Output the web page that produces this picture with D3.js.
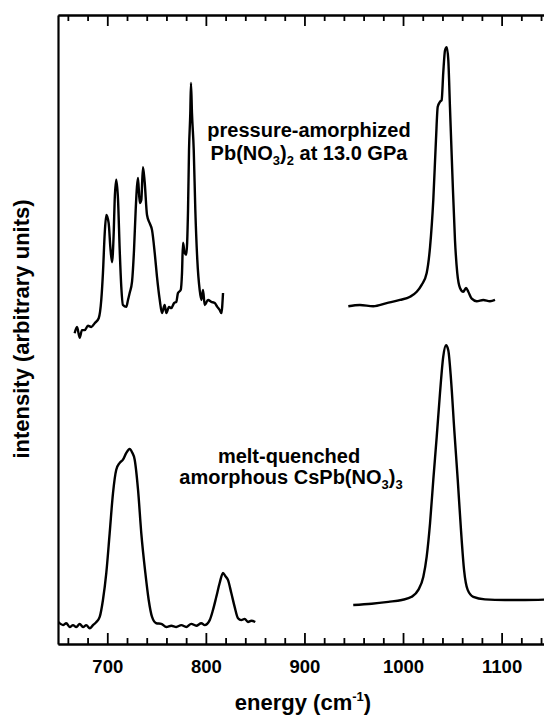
<!DOCTYPE html>
<html lang="en">
<head>
    <meta charset="UTF-8">
    <title>Raman spectra of amorphous nitrates</title>
    <script src="https://d3js.org/d3.v7.min.js"></script>
    <style>
        body {
            margin: 0;
            padding: 0;
            background-color: white;
        }

        svg {
            display: block;
            font-family: 'Liberation Sans', Arial, Helvetica, sans-serif;
            font-weight: bold;
        }

        .axis .domain {
            stroke: black;
            stroke-width: 2.2;
        }

        .axis line {
            stroke: black;
            stroke-width: 1.8;
        }

        .tick-label {
            font-family: 'Liberation Sans', Arial, Helvetica, sans-serif;
            font-weight: 700;
            font-size: 18.5px;
            fill: black;
        }

        .spectrum {
            fill: none;
            stroke: black;
            stroke-width: 2.4;
            stroke-linejoin: round;
        }
    </style>
</head>
<body>
    <svg id="chart" width="544" height="716"></svg>

    <script>
        // tick labels on the energy axis
        const majorTicks = [700, 800, 900, 1000, 1100];

        // pressure-amorphized Pb(NO3)2, lower energy band
        const pbLowE = [666.9, 669.3, 672.0, 674.3, 677.1, 680.4, 683.8, 687.2, 691.3, 693.9, 695.6, 697.4, 699.0, 701.4, 703.1, 704.8,
            706.5, 707.5, 709.1, 710.9, 712.6, 714.2, 715.9, 719.3, 721.0, 722.7, 725.1, 727.1, 728.8, 730.1, 731.2, 732.9,
            734.5, 736.2, 737.9, 740.3, 743.0, 745.4, 748.1, 750.4, 753.2, 755.5, 758.2, 759.9, 762.6, 764.9, 767.7, 770.0,
            771.7, 774.5, 775.8, 776.8, 778.5, 780.1, 781.9, 782.9, 784.2, 784.9, 785.9, 787.7, 789.3, 791.3, 793.7, 795.4,
            797.1, 798.8, 802.2, 805.5, 809.0, 811.6, 814.0, 815.7, 817.4];
        const pbLowI = [49.4, 50.4, 48.7, 49.9, 49.9, 50.6, 50.4, 51.0, 51.8, 54.7, 59.0, 65.3, 68.2, 66.9, 63.1, 60.7,
            65.3, 70.6, 73.8, 70.6, 62.6, 56.8, 53.9, 53.6, 54.7, 55.8, 57.6, 62.6, 69.0, 72.7, 74.1, 70.1,
            70.6, 75.8, 73.5, 68.2, 66.9, 65.8, 62.2, 58.4, 54.7, 52.6, 53.9, 52.6, 53.6, 53.4, 54.2, 54.4,
            55.8, 56.3, 59.0, 63.8, 62.2, 61.9, 69.0, 78.5, 84.4, 89.2, 84.4, 78.5, 69.0, 61.1, 56.3, 54.7,
            56.3, 53.9, 54.7, 54.4, 54.2, 53.6, 53.1, 52.6, 55.8];

        // pressure-amorphized Pb(NO3)2, nitrate stretch band
        const pbHighE = [944.5, 956.3, 969.8, 983.4, 996.9, 1007.1, 1013.9, 1018.9, 1024.0, 1027.4, 1030.7, 1033.4, 1035.2, 1037.5, 1039.2, 1040.8,
            1042.6, 1044.3, 1045.9, 1047.6, 1050.0, 1052.7, 1055.0, 1057.8, 1061.1, 1063.9, 1066.2, 1069.7, 1074.7, 1081.4, 1088.2, 1093.3];
        const pbHighI = [53.7, 53.9, 53.7, 54.2, 54.7, 55.2, 56.0, 57.1, 59.0, 63.1, 70.6, 80.1, 85.4, 86.2, 86.5, 90.8,
            94.4, 94.9, 92.9, 85.4, 74.9, 64.2, 59.0, 56.6, 56.0, 56.6, 56.0, 54.9, 54.5, 54.7, 54.5, 54.7];

        // melt-quenched amorphous CsPb(NO3)3, lower energy band
        const csLowE = [650.3, 655.1, 658.4, 661.9, 665.2, 668.6, 672.0, 675.4, 678.7, 682.2, 685.5, 688.9, 692.3, 695.6, 699.0, 702.4,
            705.8, 709.1, 712.6, 715.9, 719.3, 722.7, 725.1, 727.8, 731.2, 734.5, 738.6, 742.0, 745.4, 749.7, 754.8, 759.9,
            764.9, 770.0, 775.1, 780.1, 785.2, 790.3, 795.4, 798.8, 803.9, 807.2, 810.6, 814.0, 817.4, 819.7, 822.4, 825.8,
            829.2, 832.6, 835.9, 839.4, 842.7, 846.1, 850.1];
        const csLowI = [3.5, 3.0, 3.3, 2.7, 3.0, 2.7, 3.2, 2.7, 3.0, 2.5, 3.0, 3.5, 4.3, 7.0, 11.3, 17.6,
            24.0, 27.7, 28.8, 29.3, 30.4, 31.0, 30.5, 29.3, 24.5, 17.6, 11.3, 7.0, 4.3, 3.3, 3.2, 2.7,
            2.9, 2.7, 3.0, 2.7, 3.2, 2.9, 3.3, 3.0, 3.8, 5.4, 7.5, 9.7, 11.3, 10.8, 10.2, 8.1,
            5.9, 4.1, 3.8, 4.0, 3.5, 3.7, 3.5];

        // melt-quenched amorphous CsPb(NO3)3, nitrate stretch band
        const csHighE = [949.5, 968.2, 985.1, 998.7, 1008.8, 1015.5, 1020.6, 1024.0, 1027.4, 1030.7, 1034.2, 1037.5, 1040.8, 1043.6, 1045.9, 1048.7,
            1052.0, 1055.5, 1058.8, 1061.9, 1065.6, 1071.3, 1083.1, 1103.4, 1123.7, 1150.0];
        const csHighI = [6.2, 6.4, 6.7, 7.0, 7.5, 8.6, 10.7, 13.9, 19.2, 26.1, 33.0, 39.9, 45.7, 47.5, 46.7, 42.0,
            34.0, 26.1, 18.1, 11.8, 8.6, 7.5, 7.1, 7.0, 7.0, 7.1];

        const plotLeft = 58, plotRight = 544, plotTop = 15, plotBottom = 644;

        const svg = d3.select("#chart");

        const x = d3.scaleLinear().domain([650, 1143]).range([plotLeft, plotRight]);
        const y = d3.scaleLinear().domain([0, 100]).range([plotBottom, plotTop]);

        svg.append("clipPath").attr("id", "plot-clip")
           .append("rect")
           .attr("x", plotLeft).attr("y", plotTop)
           .attr("width", plotRight - plotLeft).attr("height", plotBottom - plotTop);

        const minorTicks = d3.range(660, 1141, 20).filter(v => v % 100 !== 0);

        // bottom axis, ticks pointing inward
        svg.append("g").attr("class", "axis")
           .attr("transform", "translate(0," + plotBottom + ")")
           .call(d3.axisBottom(x).tickValues(minorTicks).tickSizeInner(-6).tickSizeOuter(0).tickFormat(""));
        const xAxis = svg.append("g").attr("class", "axis")
           .attr("transform", "translate(0," + plotBottom + ")")
           .call(d3.axisBottom(x).tickValues(majorTicks).tickSizeInner(-11).tickSizeOuter(0)
                   .tickPadding(16).tickFormat(d3.format("d")));
        xAxis.attr("font-size", 18.5)
             .attr("font-weight", "bold")
             .attr("font-family", "'Liberation Sans', Arial, Helvetica, sans-serif");
        xAxis.selectAll("text").attr("class", "tick-label");

        // top axis mirror
        svg.append("g").attr("class", "axis")
           .attr("transform", "translate(0," + plotTop + ")")
           .call(d3.axisTop(x).tickValues(minorTicks).tickSizeInner(-6).tickSizeOuter(0).tickFormat(""));
        svg.append("g").attr("class", "axis")
           .attr("transform", "translate(0," + plotTop + ")")
           .call(d3.axisTop(x).tickValues(majorTicks).tickSizeInner(-11).tickSizeOuter(0).tickFormat(""));

        // left axis: plain line, intensity is arbitrary
        svg.append("g").attr("class", "axis")
           .attr("transform", "translate(" + plotLeft + ",0)")
           .call(d3.axisLeft(y).tickValues([]).tickSizeOuter(0));

        const line = d3.line()
                       .curve(d3.curveMonotoneX)
                       .x(d => x(d[0]))
                       .y(d => y(d[1]));

        const spectra = [
            d3.zip(pbLowE, pbLowI),
            d3.zip(pbHighE, pbHighI),
            d3.zip(csLowE, csLowI),
            d3.zip(csHighE, csHighI)
        ];

        svg.append("g")
           .attr("clip-path", "url(#plot-clip)")
           .selectAll("path")
           .data(spectra)
           .enter().append("path")
           .attr("class", "spectrum")
           .attr("d", line);

        // labels
        const lab1 = svg.append("text").attr("x", 309).attr("y", 137)
                        .attr("text-anchor", "middle").style("font-size", "20px");
        lab1.text("pressure-amorphized");

        const lab2 = svg.append("text").attr("x", 309).attr("y", 160)
                        .attr("text-anchor", "middle").style("font-size", "20px");
        lab2.append("tspan").text("Pb(NO");
        lab2.append("tspan").attr("dy", 5).style("font-size", "13px").text("3");
        lab2.append("tspan").attr("dy", -5).text(")");
        lab2.append("tspan").attr("dy", 5).style("font-size", "13px").text("2");
        lab2.append("tspan").attr("dy", -5).text(" at 13.0 GPa");

        const lab3 = svg.append("text").attr("x", 289).attr("y", 463)
                        .attr("text-anchor", "middle").style("font-size", "20px");
        lab3.text("melt-quenched");

        const lab4 = svg.append("text").attr("x", 291).attr("y", 484)
                        .attr("text-anchor", "middle").style("font-size", "20px");
        lab4.append("tspan").text("amorphous CsPb(NO");
        lab4.append("tspan").attr("dy", 5).style("font-size", "13px").text("3");
        lab4.append("tspan").attr("dy", -5).text(")");
        lab4.append("tspan").attr("dy", 5).style("font-size", "13px").text("3");

        // axis titles
        const xTitle = svg.append("text").attr("x", 303).attr("y", 710)
                          .attr("text-anchor", "middle").style("font-size", "22px");
        xTitle.append("tspan").text("energy (cm");
        xTitle.append("tspan").attr("dy", -9).style("font-size", "13px").text("-1");
        xTitle.append("tspan").attr("dy", 9).text(")");

        svg.append("text")
           .attr("transform", "translate(29,329) rotate(-90)")
           .attr("text-anchor", "middle")
           .style("font-size", "22px")
           .text("intensity (arbitrary units)");
    </script>
</body>
</html>
